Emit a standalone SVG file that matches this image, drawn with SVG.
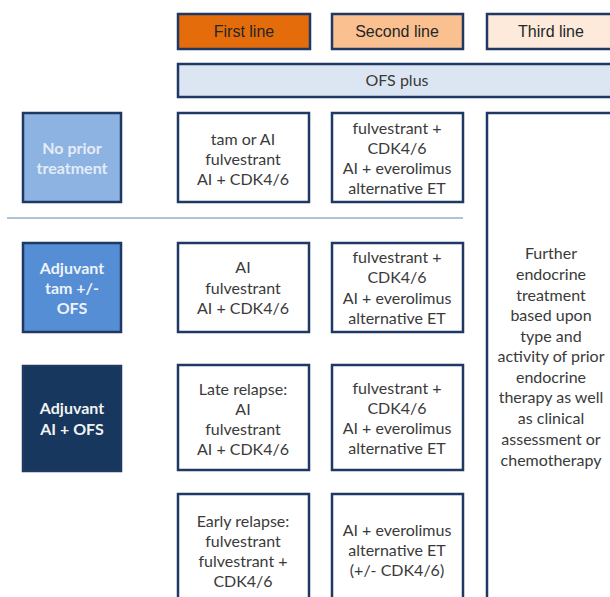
<svg xmlns="http://www.w3.org/2000/svg" width="610" height="597" viewBox="0 0 610 597">
<style>
.box{stroke:#1F3864;stroke-width:2.5}
.w{fill:#FFFFFF}
.h{font-family:"Liberation Sans",Arial,sans-serif;font-size:16px;fill:#262626;text-anchor:middle}
.t{font-family:Lato,"Open Sans",sans-serif;font-size:16px;fill:#3A3A3A;text-anchor:middle}
.l{font-family:Lato,"Open Sans",sans-serif;font-size:16px;font-weight:bold;text-anchor:middle}
</style>
<rect width="610" height="597" fill="#FFFFFF"/>
<g id="hdr-first"><rect class="box" x="178" y="14" width="132" height="35" fill="#E46C0A"/><text class="h" x="244" y="37">First line</text></g>
<g id="hdr-second"><rect class="box" x="332" y="14" width="131" height="35" fill="#FAC090"/><text class="h" x="397" y="37">Second line</text></g>
<g id="hdr-third"><rect class="box" x="487" y="14" width="130" height="35" fill="#FDEADA"/><text class="h" x="551" y="37">Third line</text></g>
<g id="ofs"><rect class="box" x="178" y="64" width="440" height="33" fill="#DCE6F2"/><text class="t" x="397" y="86" fill="#262626">OFS plus</text></g>

<g id="left-noprior"><rect class="box" x="23" y="113" width="98" height="89" fill="#8DB3E2"/><text class="l" x="72" y="154" fill="#E3ECF7">No prior</text><text class="l" x="72" y="174" fill="#E3ECF7">treatment</text></g>
<g id="left-tam"><rect class="box" x="23" y="243" width="98" height="89" fill="#558ED5"/><text class="l" x="72" y="274" fill="#EEF3FA">Adjuvant</text><text class="l" x="72" y="294" fill="#EEF3FA">tam +/-</text><text class="l" x="72" y="314" fill="#EEF3FA">OFS</text></g>
<g id="left-ai"><rect class="box" x="23" y="366" width="98" height="105" fill="#17375E"/><text class="l" x="72" y="414" fill="#F2F2F2">Adjuvant</text><text class="l" x="72" y="435" fill="#F2F2F2">AI + OFS</text></g>

<g id="c1r1"><rect class="box w" x="178" y="113" width="131" height="89"/><text class="t" x="243" y="145">tam or AI</text><text class="t" x="243" y="165">fulvestrant</text><text class="t" x="243" y="185">AI + CDK4/6</text></g>
<g id="c2r1"><rect class="box w" x="332" y="113" width="131" height="89"/><text class="t" x="397" y="134">fulvestrant +</text><text class="t" x="397" y="154">CDK4/6</text><text class="t" x="397" y="174">AI + everolimus</text><text class="t" x="397" y="194">alternative ET</text></g>

<g id="c1r2"><rect class="box w" x="178" y="243" width="131" height="89"/><text class="t" x="243" y="273">AI</text><text class="t" x="243" y="294">fulvestrant</text><text class="t" x="243" y="314">AI + CDK4/6</text></g>
<g id="c2r2"><rect class="box w" x="332" y="243" width="131" height="89"/><text class="t" x="397" y="263">fulvestrant +</text><text class="t" x="397" y="283">CDK4/6</text><text class="t" x="397" y="304">AI + everolimus</text><text class="t" x="397" y="324">alternative ET</text></g>

<g id="c1r3"><rect class="box w" x="178" y="365" width="131" height="105"/><text class="t" x="243" y="395">Late relapse:</text><text class="t" x="243" y="415">AI</text><text class="t" x="243" y="435">fulvestrant</text><text class="t" x="243" y="455">AI + CDK4/6</text></g>
<g id="c2r3"><rect class="box w" x="332" y="365" width="131" height="105"/><text class="t" x="397" y="394">fulvestrant +</text><text class="t" x="397" y="414">CDK4/6</text><text class="t" x="397" y="434">AI + everolimus</text><text class="t" x="397" y="454">alternative ET</text></g>

<g id="c1r4"><rect class="box w" x="178" y="494" width="131" height="110"/><text class="t" x="243" y="527">Early relapse:</text><text class="t" x="243" y="547">fulvestrant</text><text class="t" x="243" y="567">fulvestrant +</text><text class="t" x="243" y="587">CDK4/6</text></g>
<g id="c2r4"><rect class="box w" x="332" y="494" width="131" height="110"/><text class="t" x="397" y="536">AI + everolimus</text><text class="t" x="397" y="556">alternative ET</text><text class="t" x="397" y="576">(+/- CDK4/6)</text></g>

<g id="third"><rect class="box w" x="487" y="113" width="130" height="495"/>
<text class="t" x="551" y="259">Further</text><text class="t" x="551" y="280">endocrine</text><text class="t" x="551" y="301">treatment</text><text class="t" x="551" y="321">based upon</text><text class="t" x="551" y="342">type and</text><text class="t" x="551" y="362">activity of prior</text><text class="t" x="551" y="383">endocrine</text><text class="t" x="551" y="403">therapy as well</text><text class="t" x="551" y="424">as clinical</text><text class="t" x="551" y="445">assessment or</text><text class="t" x="551" y="466">chemotherapy</text></g>

<g id="connectors"><line x1="7" y1="218" x2="463" y2="218" stroke="#95AECB" stroke-width="1.5"/></g>
</svg>
